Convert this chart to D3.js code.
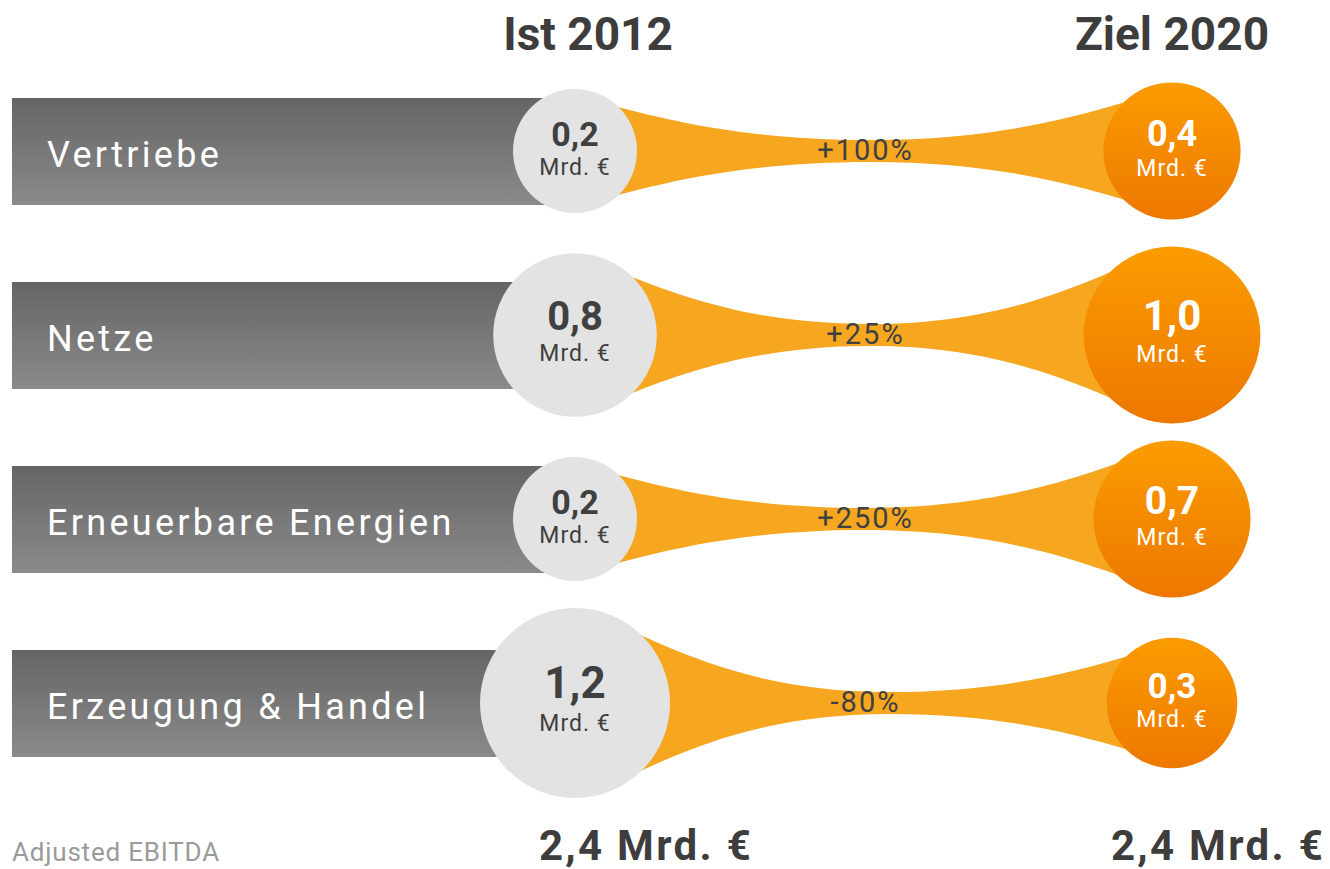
<!DOCTYPE html>
<html>
<head>
<meta charset="utf-8">
<script src="https://cdnjs.cloudflare.com/ajax/libs/d3/7.8.5/d3.min.js"></script>
<style>
    body { margin: 0; background: #fff; }
    text { font-family: Roboto, "DejaVu Sans", sans-serif; }
</style>
</head>
<body>
<div class="ebitda_chart"></div>
<script>
var categories = ["Vertriebe", "Netze", "Erneuerbare Energien", "Erzeugung & Handel"];
var columns = ["Ist 2012", "Ziel 2020"];
var valuesIst = [0.2, 0.8, 0.2, 1.2];
var valuesZiel = [0.4, 1.0, 0.7, 0.3];
var changeLabels = ["+100%", "+25%", "+250%", "-80%"];
var totals = ["2,4 Mrd. €", "2,4 Mrd. €"];
var unit = "Mrd. €";
var footnote = "Adjusted EBITDA";

var EbitdaChart = function (params) {
    this.el = params.el;
    this.width = 1330;
    this.height = 869;
    this.midHalf = 11;
};

EbitdaChart.prototype.init = function () {
    this.svg = d3.select(this.el).append("svg")
        .attr("width", this.width)
        .attr("height", this.height);
    this.buildScales();
    this.buildDefs();
    this.buildBars();
    this.buildBands();
    this.buildCircles();
    this.buildTexts();
};

EbitdaChart.prototype.buildScales = function () {
    this.y = d3.scalePoint().domain(categories).range([151, 703]);
    this.x = d3.scalePoint().domain(columns).range([575, 1172]);
    this.r = d3.scaleLinear().domain([0.2, 1.2]).range([62, 95]);
    this.numSize = d3.scaleLinear().domain([62, 95]).range([34, 44]);
    this.unitShift = d3.scaleLinear().domain([62, 95]).range([24, 28]);
};

EbitdaChart.prototype.buildDefs = function () {
    var defs = this.svg.append("defs");
    var grey = defs.append("linearGradient").attr("id", "barGrad")
        .attr("x1", 0).attr("y1", 0).attr("x2", 0).attr("y2", 1);
    grey.append("stop").attr("offset", "0%").attr("stop-color", "#656565");
    grey.append("stop").attr("offset", "100%").attr("stop-color", "#8a8a8a");
    var orange = defs.append("linearGradient").attr("id", "orangeGrad")
        .attr("x1", 0).attr("y1", 0).attr("x2", 0).attr("y2", 1);
    orange.append("stop").attr("offset", "0%").attr("stop-color", "#fb9c00");
    orange.append("stop").attr("offset", "100%").attr("stop-color", "#ed7800");
};

EbitdaChart.prototype.buildBars = function () {
    var self = this;
    this.svg.append("g").selectAll("rect")
        .data(categories)
        .join("rect")
        .attr("x", 12)
        .attr("y", function (d) { return self.y(d) - 53; })
        .attr("width", this.x(columns[0]) - 12)
        .attr("height", 107)
        .attr("fill", "url(#barGrad)");
};

EbitdaChart.prototype.bandPath = function (i) {
    var cy = this.y(categories[i]);
    var xl = this.x(columns[0]), xr = this.x(columns[1]);
    var rl = this.r(valuesIst[i]), rr = this.r(valuesZiel[i]);
    var k = Math.SQRT1_2;
    var x0 = xl + rl * k, h0 = rl * k;
    var x1 = xr - rr * k, h1 = rr * k;
    var xm = (xl + rl + xr - rr) / 2, hm = this.midHalf;
    var p = d3.path();
    // top edge, left to right
    p.moveTo(xl, cy - h0);
    p.lineTo(x0, cy - h0);
    var dx = xm - x0;
    p.bezierCurveTo(x0 + 0.25 * dx, cy - h0 + 0.5 * (h0 - hm), x0 + 0.55 * dx, cy - hm, xm, cy - hm);
    dx = x1 - xm;
    p.bezierCurveTo(x1 - 0.55 * dx, cy - hm, x1 - 0.25 * dx, cy - h1 + 0.5 * (h1 - hm), x1, cy - h1);
    p.lineTo(xr, cy - h1);
    p.lineTo(xr, cy + h1);
    p.lineTo(x1, cy + h1);
    // bottom edge, right to left
    p.bezierCurveTo(x1 - 0.25 * dx, cy + h1 - 0.5 * (h1 - hm), x1 - 0.55 * dx, cy + hm, xm, cy + hm);
    dx = xm - x0;
    p.bezierCurveTo(x0 + 0.55 * dx, cy + hm, x0 + 0.25 * dx, cy + h0 - 0.5 * (h0 - hm), x0, cy + h0);
    p.lineTo(xl, cy + h0);
    p.closePath();
    return p.toString();
};

EbitdaChart.prototype.buildBands = function () {
    var self = this;
    this.svg.append("g").selectAll("path")
        .data(categories)
        .join("path")
        .attr("d", function (d, i) { return self.bandPath(i); })
        .attr("fill", "#f6a71f");
};

EbitdaChart.prototype.buildCircles = function () {
    var self = this;
    this.svg.append("g").selectAll("circle")
        .data(valuesIst)
        .join("circle")
        .attr("cx", this.x(columns[0]))
        .attr("cy", function (d, i) { return self.y(categories[i]); })
        .attr("r", function (d) { return self.r(d); })
        .attr("fill", "#e3e3e3");
    this.svg.append("g").selectAll("circle")
        .data(valuesZiel)
        .join("circle")
        .attr("cx", this.x(columns[1]))
        .attr("cy", function (d, i) { return self.y(categories[i]); })
        .attr("r", function (d) { return self.r(d); })
        .attr("fill", "url(#orangeGrad)");
};

EbitdaChart.prototype.circleLabels = function (values, col, color) {
    var self = this;
    var fmt = function (v) { return d3.format(".1f")(v).replace(".", ","); };
    var g = this.svg.append("g").attr("text-anchor", "middle").attr("fill", color);
    g.selectAll("text.num")
        .data(values)
        .join("text")
        .classed("num", true)
        .attr("x", this.x(col))
        .attr("y", function (d, i) { return self.y(categories[i]) - 5; })
        .attr("font-size", function (d) { return self.numSize(self.r(d)) + "px"; })
        .attr("font-weight", "bold")
        .text(fmt);
    g.selectAll("text.unit")
        .data(values)
        .join("text")
        .classed("unit", true)
        .attr("x", this.x(col))
        .attr("y", function (d, i) { return self.y(categories[i]) + self.unitShift(self.r(d)); })
        .attr("font-size", "23px")
        .attr("letter-spacing", "1px")
        .text(unit);
};

EbitdaChart.prototype.buildTexts = function () {
    var self = this;
    this.svg.append("g").selectAll("text")
        .data(categories)
        .join("text")
        .attr("x", 47)
        .attr("y", function (d) { return self.y(d) + 16; })
        .attr("fill", "#fff")
        .attr("font-size", "36px")
        .attr("letter-spacing", "3.3px")
        .text(function (d) { return d; });

    this.circleLabels(valuesIst, columns[0], "#404040");
    this.circleLabels(valuesZiel, columns[1], "#fff");

    var xm = (this.x(columns[0]) + this.x(columns[1])) / 2;
    this.svg.append("g").selectAll("text")
        .data(changeLabels)
        .join("text")
        .attr("x", xm - 8)
        .attr("y", function (d, i) { return self.y(categories[i]) + 9; })
        .attr("text-anchor", "middle")
        .attr("fill", "#404040")
        .attr("font-size", "29px")
        .attr("letter-spacing", "2px")
        .text(function (d) { return d; });

    this.svg.append("g").selectAll("text")
        .data(columns)
        .join("text")
        .attr("x", function (d, i) { return self.x(d) + (i === 0 ? 13 : 0); })
        .attr("y", 50)
        .attr("text-anchor", "middle")
        .attr("fill", "#3d3d3d")
        .attr("font-size", "46px")
        .attr("font-weight", "bold")
        .text(function (d) { return d; });

    this.svg.append("g").selectAll("text")
        .data(totals)
        .join("text")
        .attr("x", function (d, i) { return self.x(columns[i]) + (i === 0 ? 71 : 46); })
        .attr("y", 860)
        .attr("text-anchor", "middle")
        .attr("fill", "#3d3d3d")
        .attr("font-size", "42px")
        .attr("font-weight", "bold")
        .attr("letter-spacing", "2.3px")
        .text(function (d) { return d; });

    this.svg.append("text")
        .attr("x", 12)
        .attr("y", 861)
        .attr("fill", "#9a9a9a")
        .attr("font-size", "26px")
        .attr("letter-spacing", "0.8px")
        .text(footnote);
};

var chart = new EbitdaChart({el: document.querySelector(".ebitda_chart")});
chart.init();
</script>
</body>
</html>
